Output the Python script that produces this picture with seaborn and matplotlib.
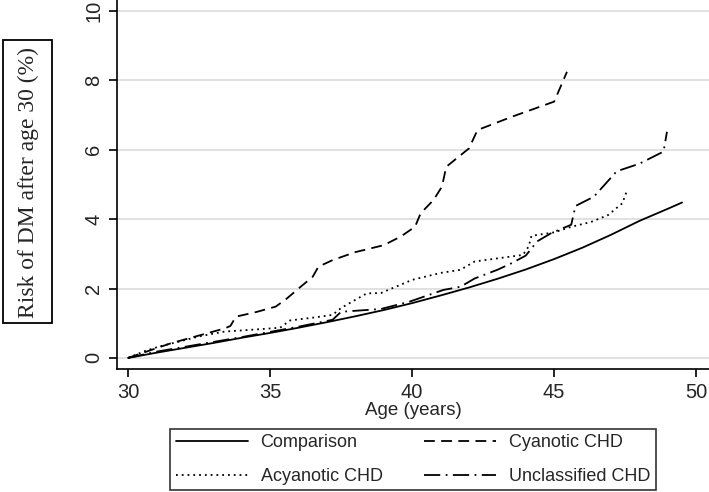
import matplotlib
matplotlib.use("Agg")
import matplotlib.pyplot as plt
from matplotlib.patches import Rectangle
import seaborn as sns
import pandas as pd

sns.set_theme(style="white")
plt.rcParams['font.family'] = ['Liberation Sans', 'DejaVu Sans']

# ---- data ----
comp_x = [30, 31, 32, 33, 34, 35, 36, 37, 38, 39, 40, 41, 42, 43, 44, 45, 46, 47, 48, 49, 49.5]
comp_y = [0, 0.15, 0.29, 0.43, 0.58, 0.72, 0.87, 1.03, 1.2, 1.38, 1.58, 1.8, 2.03, 2.28, 2.55,
          2.85, 3.18, 3.55, 3.95, 4.3, 4.48]

cyan_x = [30, 31.5, 33.4, 33.6, 33.8, 34.5, 35.2, 35.6, 36.0, 36.5, 36.7, 37.2, 38.0, 39.0, 39.6,
          40.1, 40.3, 40.75, 41.05, 41.2, 42.0, 42.3, 43.5, 45.0, 45.45]
cyan_y = [0, 0.42, 0.85, 0.92, 1.19, 1.32, 1.48, 1.72, 2.0, 2.34, 2.63, 2.82, 3.05, 3.25, 3.5,
          3.78, 4.17, 4.55, 4.94, 5.51, 6.04, 6.57, 6.95, 7.39, 8.25]

acy_x = [30, 30.6, 31.1, 31.7, 32.5, 33.4, 34.5, 35.35, 35.7, 36.5, 37.2, 37.5, 38.4, 38.9, 40.0,
         41.0, 41.7, 42.2, 43.1, 43.9, 44.1, 44.2, 45.0, 45.6, 46.3, 46.9, 47.4, 47.55]
acy_y = [0, 0.2, 0.33, 0.45, 0.62, 0.76, 0.82, 0.87, 1.08, 1.16, 1.24, 1.44, 1.86, 1.87, 2.25,
         2.45, 2.54, 2.78, 2.88, 2.97, 3.21, 3.52, 3.62, 3.78, 3.92, 4.12, 4.46, 4.8]

uncl_x = [30, 31, 32, 33, 34, 35, 36, 37.2, 37.5, 38.9, 39.9, 41.1, 41.7, 42.2, 43.0, 43.5, 44.0,
          44.4, 44.9, 45.6, 45.75, 46.4, 47.2, 48.0, 48.85, 48.97]
uncl_y = [0, 0.18, 0.32, 0.46, 0.6, 0.75, 0.9, 1.1, 1.33, 1.41, 1.62, 1.96, 2.05, 2.29, 2.54, 2.73,
          2.95, 3.36, 3.6, 3.84, 4.38, 4.65, 5.38, 5.6, 5.95, 6.52]

x_ticks = [30, 35, 40, 45, 50]
y_ticks = [0, 2, 4, 6, 8, 10]

series = [
    ("Comparison", comp_x, comp_y, "-"),
    ("Acyanotic CHD", acy_x, acy_y, (0, (1, 2.2))),
    ("Cyanotic CHD", cyan_x, cyan_y, (0, (6, 3.5))),
    ("Unclassified CHD", uncl_x, uncl_y, (0, (9, 3, 1, 3))),
]

fig = plt.figure(figsize=(7.09, 4.92), dpi=100)
ax = fig.add_axes([117/709, 1-369/492, 1-117/709, 369/492])

for y in y_ticks:
    ax.axhline(y, color="#dcdcdc", lw=1.2, zorder=0)

for name, xs, ys, ls in series:
    df = pd.DataFrame({"age": xs, "risk": ys})
    sns.lineplot(data=df, x="age", y="risk", ax=ax, color="black", lw=1.3,
                 linestyle=ls, label=name, legend=False)

ax.set_xlim(29.61, 50.45)
ax.set_ylim(-0.32, 10.32)
ax.set_xticks(x_ticks)
ax.set_yticks(y_ticks)
ax.set_xticklabels([str(v) for v in x_ticks], fontsize=14.5)
ax.set_yticklabels([str(v) for v in y_ticks], fontsize=14.5, rotation=90, va="center")
ax.tick_params(axis="both", direction="out", length=6, width=1.2, color="black",
               bottom=True, left=True)
ax.tick_params(axis="x", pad=4)
ax.tick_params(axis="y", pad=4)
for s in ["top", "right"]:
    ax.spines[s].set_visible(False)
for s in ["left", "bottom"]:
    ax.spines[s].set_color("black")
    ax.spines[s].set_linewidth(1.2)
ax.set_xlabel("Age (years)", fontsize=13.5, labelpad=0)
ax.set_ylabel("")

# boxed y-axis title
fig.patches.append(Rectangle((3/709, 1-323/492), 49/709, 283/492, transform=fig.transFigure,
                             fc="white", ec="black", lw=1.3, zorder=1))
fig.text(28/709, 1-182/492, "Risk of DM after age 30 (%)", rotation=90, ha="center", va="center",
         fontsize=17, family=["Liberation Serif", "DejaVu Serif"], zorder=2)

handles, labels = ax.get_legend_handles_labels()
leg = fig.legend(handles, labels, ncol=2, loc="center", bbox_to_anchor=(413/709, 1-459.5/492),
                 frameon=True, fancybox=False, edgecolor="black", fontsize=13,
                 handlelength=4.0, columnspacing=2.3, handletextpad=0.7,
                 borderpad=0.3, labelspacing=0.95, borderaxespad=0)
leg.get_frame().set_linewidth(1.2)

fig.savefig("out.png", dpi=100, facecolor="white")
